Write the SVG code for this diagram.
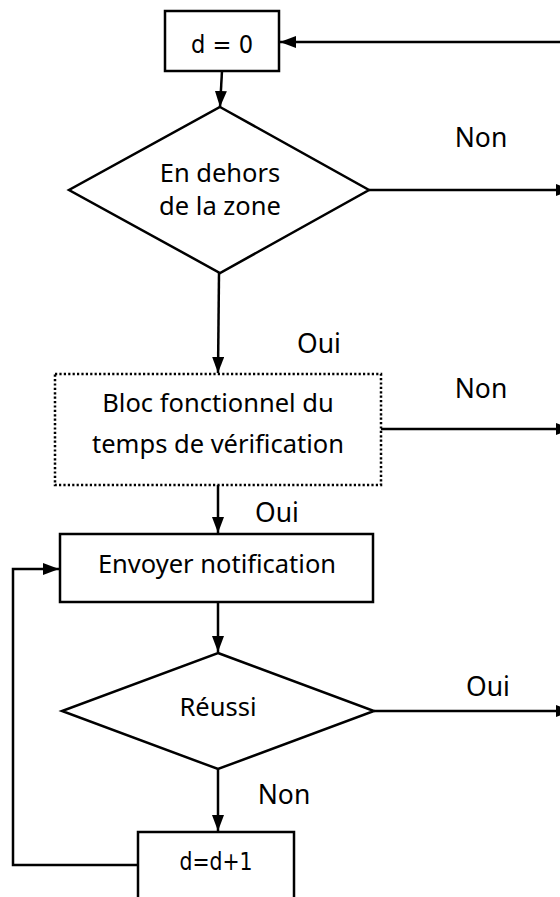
<svg xmlns="http://www.w3.org/2000/svg" width="560" height="897" viewBox="0 0 560 897">
  <style>
    .box { fill: #fff; stroke: #000; stroke-width: 2.5; }
    .dotted { fill: #fff; stroke: #000; stroke-width: 2.5; stroke-dasharray: 2.2 2.2; }
    .lbl { font-family: "Noto Sans", "Open Sans", sans-serif; font-size: 25.5px; fill: #000; text-anchor: middle; }
    .branch { font-family: "Noto Sans", "Open Sans", sans-serif; font-size: 26.5px; fill: #000; text-anchor: middle; }
    .var { font-family: "DejaVu Sans", "Liberation Sans", sans-serif; font-size: 24px; fill: #000; text-anchor: middle; }
    .wire { fill: none; stroke: #000; stroke-width: 2.5; }
  </style>
  <defs>
    <marker id="arrow" viewBox="0 0 16 12" refX="16" refY="6" markerWidth="16" markerHeight="12" markerUnits="userSpaceOnUse" orient="auto">
      <path d="M0,0 L16,6 L0,12 z" fill="#000"/>
    </marker>
  </defs>

  <!-- connectors -->
  <g id="connectors">
    <line class="wire" x1="572" y1="42" x2="280" y2="42" marker-end="url(#arrow)"/>
    <line class="wire" x1="222" y1="71" x2="220" y2="107" marker-end="url(#arrow)"/>
    <line class="wire" x1="369" y1="190" x2="572" y2="190" marker-end="url(#arrow)"/>
    <line class="wire" x1="219" y1="273" x2="218" y2="373" marker-end="url(#arrow)"/>
    <line class="wire" x1="381" y1="429" x2="572" y2="429" marker-end="url(#arrow)"/>
    <line class="wire" x1="218" y1="485" x2="218" y2="533" marker-end="url(#arrow)"/>
    <line class="wire" x1="218" y1="602" x2="218" y2="652" marker-end="url(#arrow)"/>
    <line class="wire" x1="374" y1="711" x2="572" y2="711" marker-end="url(#arrow)"/>
    <line class="wire" x1="218" y1="769" x2="218" y2="831" marker-end="url(#arrow)"/>
    <polyline class="wire" points="138,865 13,865 13,569 59,569" marker-end="url(#arrow)"/>
  </g>

  <!-- branch labels -->
  <g id="branch-labels">
    <text class="branch" x="481" y="147">Non</text>
    <text class="branch" x="319" y="353">Oui</text>
    <text class="branch" x="481" y="398">Non</text>
    <text class="branch" x="277" y="522">Oui</text>
    <text class="branch" x="488" y="696">Oui</text>
    <text class="branch" x="284" y="804">Non</text>
  </g>

  <g id="node-init">
    <rect class="box" x="165" y="11" width="114" height="60"/>
    <text class="var" x="222" y="53" textLength="62" lengthAdjust="spacingAndGlyphs">d = 0</text>
  </g>

  <g id="node-zone">
    <polygon class="box" points="220,107 369,190 220,273 69,190"/>
    <text class="lbl" x="220" y="182">En dehors</text>
    <text class="lbl" x="220" y="215">de la zone</text>
  </g>

  <g id="node-timer">
    <rect class="dotted" x="55" y="374" width="326" height="111"/>
    <text class="lbl" x="218" y="412">Bloc fonctionnel du</text>
    <text class="lbl" x="218" y="453">temps de vérification</text>
  </g>

  <g id="node-notify">
    <rect class="box" x="60" y="534" width="313" height="68"/>
    <text class="lbl" x="217" y="573">Envoyer notification</text>
  </g>

  <g id="node-success">
    <polygon class="box" points="218,653 374,711 218,769 62,711"/>
    <text class="lbl" x="218" y="716">Réussi</text>
  </g>

  <g id="node-increment">
    <rect class="box" x="138" y="832" width="156" height="80"/>
    <text class="var" x="216" y="870" textLength="73" lengthAdjust="spacingAndGlyphs">d=d+1</text>
  </g>
</svg>
